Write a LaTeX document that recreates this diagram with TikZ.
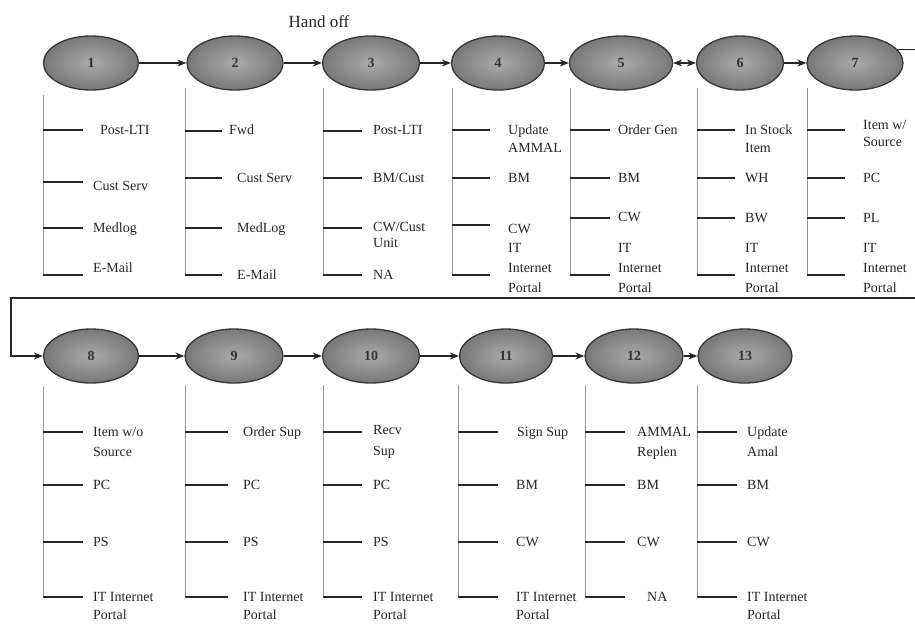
\documentclass[tikz,border=0pt]{standalone}
\usepackage{fontspec}
\setmainfont{Liberation Serif}
\usetikzlibrary{shapes.geometric,arrows.meta}
\definecolor{ellin}{RGB}{170,170,170}
\definecolor{ellout}{RGB}{120,120,120}
\definecolor{ellline}{RGB}{55,55,55}
\definecolor{vgray}{RGB}{150,150,150}
\tikzset{
  ell/.style={ellipse, draw=ellline, line width=1.3pt, minimum width=95pt, minimum height=54pt,
    inner sep=0pt, shading=radial, inner color=ellin, outer color=ellout,
    font=\fontsize{14}{14}\selectfont\bfseries, text=black!80},
  flow/.style={line width=1.1pt, draw=black!85, -{Stealth[length=9pt,width=7pt]}},
  vline/.style={line width=0.7pt, draw=vgray},
  tick/.style={line width=1.1pt, draw=black!85},
  lbl/.style={anchor=north west, inner sep=0pt, align=left, text=black!85,
    font=\fontsize{14}{19}\selectfont},
}
\begin{document}
\begin{tikzpicture}[x=1pt,y=-1pt]
\useasboundingbox[fill=white] (0,0) rectangle (915,625);

% ---------- ellipses ----------
\node[ell, minimum width=95pt] (e1) at (91,63) {1};
\node[ell, minimum width=96pt] (e2) at (235,63) {2};
\node[ell, minimum width=97pt] (e3) at (371,63) {3};
\node[ell, minimum width=93pt] (e4) at (498,63) {4};
\node[ell, minimum width=103pt] (e5) at (621,63) {5};
\node[ell, minimum width=87pt] (e6) at (740,63) {6};
\node[ell, minimum width=96pt] (e7) at (855,63) {7};

\node[ell, minimum width=95pt] (e8) at (91,356) {8};
\node[ell, minimum width=98pt] (e9) at (234,356) {9};
\node[ell, minimum width=97pt] (e10) at (371,356) {10};
\node[ell, minimum width=93pt] (e11) at (506,356) {11};
\node[ell, minimum width=98pt] (e12) at (634,356) {12};
\node[ell, minimum width=94pt] (e13) at (745,356) {13};

\node[font=\fontsize{17}{17}\selectfont, text=black!85] (hand) at (319,22) {Hand off};

% ---------- flow arrows ----------
\draw[flow] (e1) -- (e2);
\draw[flow] (e2) -- (e3);
\draw[flow] (e3) -- (e4);
\draw[flow] (e4) -- (e5);
\draw[flow, {Stealth[length=9pt,width=7pt]}-{Stealth[length=9pt,width=7pt]}] (e5) -- (e6);
\draw[flow] (e6) -- (e7);
\coordinate (wrapR) at (918,298);
\coordinate (wrapL) at (11,298);
\draw[flow] (e7.18) -- (e7.18 -| wrapR) -- (wrapR) -- (wrapL) |- (e8);
\draw[flow] (e8) -- (e9);
\draw[flow] (e9) -- (e10);
\draw[flow] (e10) -- (e11);
\draw[flow] (e11) -- (e12);
\draw[flow] (e12) -- (e13);

% ---------- top row columns ----------
% column 1
\draw[vline] (43,95) -- (43,275);
\draw[tick] (43,130) -- (83,130);
\draw[tick] (43,182) -- (83,182);
\draw[tick] (43,228) -- (83,228);
\draw[tick] (43,275) -- (83,275);
\node[lbl] (t1a) at (100,125) {Post-LTI};
\node[lbl] (t1b) at (93,181) {Cust Serv};
\node[lbl] (t1c) at (93,223) {Medlog};
\node[lbl] (t1d) at (93,263) {E-Mail};
% column 2
\draw[vline] (185,88) -- (185,275);
\draw[tick] (185,131) -- (222,131);
\draw[tick] (185,178) -- (222,178);
\draw[tick] (185,228) -- (222,228);
\draw[tick] (185,275) -- (222,275);
\node[lbl] (t2a) at (229,125) {Fwd};
\node[lbl] (t2b) at (237,173) {Cust Serv};
\node[lbl] (t2c) at (237,223) {MedLog};
\node[lbl] (t2d) at (237,270) {E-Mail};
% column 3
\draw[vline] (323,88) -- (323,275);
\draw[tick] (323,131) -- (362,131);
\draw[tick] (323,178) -- (362,178);
\draw[tick] (323,228) -- (362,228);
\draw[tick] (323,275) -- (362,275);
\node[lbl] (t3a) at (373,125) {Post-LTI};
\node[lbl] (t3b) at (373,173) {BM/Cust};
\node[lbl, font=\fontsize{14}{16}\selectfont] (t3c) at (373,222) {CW/Cust\\Unit};
\node[lbl] (t3d) at (373,270) {NA};
% column 4
\draw[vline] (452,88) -- (452,275);
\draw[tick] (452,130) -- (490,130);
\draw[tick] (452,178) -- (490,178);
\draw[tick] (452,225) -- (490,225);
\draw[tick] (452,275) -- (490,275);
\node[lbl, font=\fontsize{14}{18}\selectfont] (t4a) at (508,125) {Update\\AMMAL};
\node[lbl] (t4b) at (508,173) {BM};
\node[lbl] (t4c) at (508,224) {CW};
\node[lbl, font=\fontsize{14}{20}\selectfont] (t4d) at (508,243) {IT\\Internet\\Portal};
% column 5
\draw[vline] (570,88) -- (570,275);
\draw[tick] (570,130) -- (610,130);
\draw[tick] (570,178) -- (610,178);
\draw[tick] (570,218) -- (610,218);
\draw[tick] (570,275) -- (610,275);
\node[lbl] (t5a) at (618,125) {Order Gen};
\node[lbl] (t5b) at (618,173) {BM};
\node[lbl] (t5c) at (618,212) {CW};
\node[lbl, font=\fontsize{14}{20}\selectfont] (t5d) at (618,243) {IT\\Internet\\Portal};
% column 6
\draw[vline] (697,88) -- (697,275);
\draw[tick] (697,130) -- (735,130);
\draw[tick] (697,178) -- (735,178);
\draw[tick] (697,218) -- (735,218);
\draw[tick] (697,275) -- (735,275);
\node[lbl, font=\fontsize{14}{18}\selectfont] (t6a) at (745,125) {In Stock\\Item};
\node[lbl] (t6b) at (745,173) {WH};
\node[lbl] (t6c) at (745,213) {BW};
\node[lbl, font=\fontsize{14}{20}\selectfont] (t6d) at (745,243) {IT\\Internet\\Portal};
% column 7
\draw[vline] (807,88) -- (807,275);
\draw[tick] (807,130) -- (845,130);
\draw[tick] (807,178) -- (845,178);
\draw[tick] (807,218) -- (845,218);
\draw[tick] (807,275) -- (845,275);
\node[lbl, font=\fontsize{14}{17}\selectfont] (t7a) at (863,120) {Item w/\\Source};
\node[lbl] (t7b) at (863,173) {PC};
\node[lbl] (t7c) at (863,213) {PL};
\node[lbl, font=\fontsize{14}{20}\selectfont] (t7d) at (863,243) {IT\\Internet\\Portal};

% ---------- bottom row columns ----------
% column 8
\draw[vline] (43,387) -- (43,597);
\draw[tick] (43,432) -- (83,432);
\draw[tick] (43,485) -- (83,485);
\draw[tick] (43,542) -- (83,542);
\draw[tick] (43,597) -- (83,597);
\node[lbl, font=\fontsize{14}{20}\selectfont] (t8a) at (93,427) {Item w/o\\Source};
\node[lbl] (t8b) at (93,480) {PC};
\node[lbl] (t8c) at (93,537) {PS};
\node[lbl, font=\fontsize{14}{18}\selectfont] (t8d) at (93,592) {IT Internet\\Portal};
% column 9
\draw[vline] (185,385) -- (185,597);
\draw[tick] (185,432) -- (228,432);
\draw[tick] (185,485) -- (228,485);
\draw[tick] (185,542) -- (228,542);
\draw[tick] (185,597) -- (228,597);
\node[lbl] (t9a) at (243,427) {Order Sup};
\node[lbl] (t9b) at (243,480) {PC};
\node[lbl] (t9c) at (243,537) {PS};
\node[lbl, font=\fontsize{14}{18}\selectfont] (t9d) at (243,592) {IT Internet\\Portal};
% column 10
\draw[vline] (323,385) -- (323,597);
\draw[tick] (323,432) -- (362,432);
\draw[tick] (323,485) -- (362,485);
\draw[tick] (323,542) -- (362,542);
\draw[tick] (323,597) -- (362,597);
\node[lbl, font=\fontsize{14}{21}\selectfont] (t10a) at (373,425) {Recv\\Sup};
\node[lbl] (t10b) at (373,480) {PC};
\node[lbl] (t10c) at (373,537) {PS};
\node[lbl, font=\fontsize{14}{18}\selectfont] (t10d) at (373,592) {IT Internet\\Portal};
% column 11
\draw[vline] (458,385) -- (458,597);
\draw[tick] (458,432) -- (498,432);
\draw[tick] (458,485) -- (498,485);
\draw[tick] (458,542) -- (498,542);
\draw[tick] (458,597) -- (498,597);
\node[lbl] (t11a) at (517,427) {Sign Sup};
\node[lbl] (t11b) at (516,480) {BM};
\node[lbl] (t11c) at (516,537) {CW};
\node[lbl, font=\fontsize{14}{18}\selectfont] (t11d) at (516,592) {IT Internet\\Portal};
% column 12
\draw[vline] (585,385) -- (585,597);
\draw[tick] (585,432) -- (625,432);
\draw[tick] (585,485) -- (625,485);
\draw[tick] (585,542) -- (625,542);
\draw[tick] (585,597) -- (625,597);
\node[lbl, font=\fontsize{14}{20}\selectfont] (t12a) at (637,427) {AMMAL\\Replen};
\node[lbl] (t12b) at (637,480) {BM};
\node[lbl] (t12c) at (637,537) {CW};
\node[lbl] (t12d) at (647,592) {NA};
% column 13
\draw[vline] (697,385) -- (697,597);
\draw[tick] (697,432) -- (737,432);
\draw[tick] (697,485) -- (737,485);
\draw[tick] (697,542) -- (737,542);
\draw[tick] (697,597) -- (737,597);
\node[lbl, font=\fontsize{14}{20}\selectfont] (t13a) at (747,427) {Update\\Amal};
\node[lbl] (t13b) at (747,480) {BM};
\node[lbl] (t13c) at (747,537) {CW};
\node[lbl, font=\fontsize{14}{18}\selectfont] (t13d) at (747,592) {IT Internet\\Portal};
\end{tikzpicture}
\end{document}
